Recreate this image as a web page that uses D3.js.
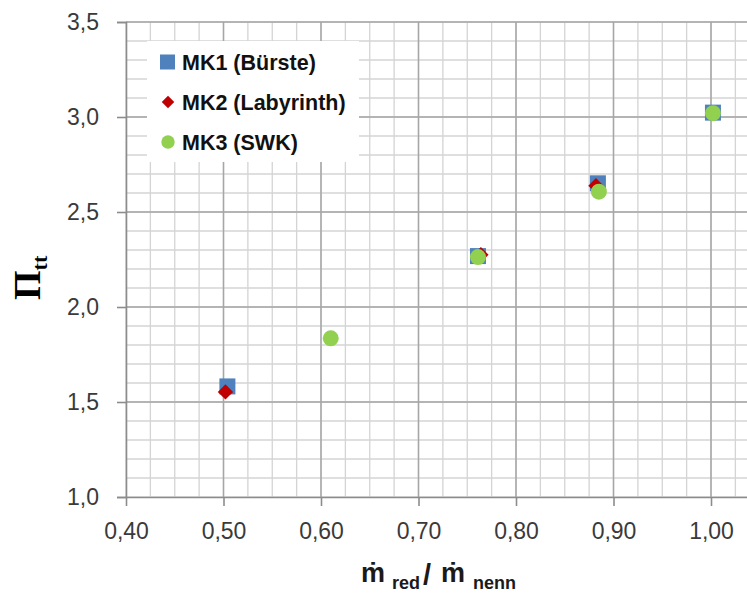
<!DOCTYPE html>
<html>
<head>
<meta charset="utf-8">
<script src="https://cdn.jsdelivr.net/npm/d3@7"></script>
<style>
  html, body { margin: 0; padding: 0; background: #fff; }
  svg { display: block; }
</style>
</head>
<body>
<svg id="chart" width="747" height="594"></svg>
<script>
// Mass-flow ratio vs. total-to-total pressure ratio for three seal variants
const xTicks = [0.40, 0.50, 0.60, 0.70, 0.80, 0.90, 1.00];
const yTicks = [1.0, 1.5, 2.0, 2.5, 3.0, 3.5];

const mk1X = [0.504, 0.761, 0.884, 1.002];
const mk1Y = [1.582, 2.268, 2.651, 3.023];

const mk2X = [0.502, 0.764, 0.882, 1.002];
const mk2Y = [1.553, 2.275, 2.638, 3.020];

const mk3X = [0.610, 0.761, 0.885, 1.002];
const mk3Y = [1.835, 2.263, 2.607, 3.020];

const seriesNames = ["MK1 (Bürste)", "MK2 (Labyrinth)", "MK3 (SWK)"];
const seriesColors = ["#4F81BD", "#C00000", "#92D050"];

const svg = d3.select("#chart");
const W = 747, H = 594;
const plotLeft = 126, plotTop = 22, plotBottom = 497;

const x = d3.scaleLinear().domain([0.40, 1.05]).range([plotLeft, plotLeft + 633.75]);
const y = d3.scaleLinear().domain([1.0, 3.5]).range([plotBottom, plotTop]);

const fmt = d3.format(".2f");
const comma = s => s.replace(".", ",");

// Grid: minor lines first, then major
const g = svg.append("g");
const xMinor = d3.range(0, 27).map(i => 0.40 + i * 0.025).filter(v => x(v) <= W);
const yMinor = d3.range(0, 26).map(i => 1.0 + i * 0.1);

g.selectAll("line.xminor").data(xMinor).join("line")
  .attr("x1", d => x(d)).attr("x2", d => x(d))
  .attr("y1", plotTop).attr("y2", plotBottom)
  .attr("stroke", "#d4d4d4").attr("stroke-width", 1.3);
g.selectAll("line.yminor").data(yMinor).join("line")
  .attr("x1", plotLeft).attr("x2", W)
  .attr("y1", d => y(d)).attr("y2", d => y(d))
  .attr("stroke", "#d4d4d4").attr("stroke-width", 1.3);
g.selectAll("line.xmajor").data(xTicks.slice(1)).join("line")
  .attr("x1", d => x(d)).attr("x2", d => x(d))
  .attr("y1", plotTop).attr("y2", plotBottom)
  .attr("stroke", "#a6a6a6").attr("stroke-width", 1.5);
g.selectAll("line.ymajor").data(yTicks.slice(1)).join("line")
  .attr("x1", plotLeft).attr("x2", W)
  .attr("y1", d => y(d)).attr("y2", d => y(d))
  .attr("stroke", "#a6a6a6").attr("stroke-width", 1.5);

// Axes
const xAxis = d3.axisBottom(x).tickValues(xTicks).tickSize(9).tickPadding(13)
  .tickFormat(d => comma(fmt(d)));
const yAxis = d3.axisLeft(y).tickValues(yTicks).tickSize(9).tickPadding(18)
  .tickFormat(d => comma(d3.format(".1f")(d)));

const gx = svg.append("g").attr("transform", `translate(0,${plotBottom})`).call(xAxis);
const gy = svg.append("g").attr("transform", `translate(${plotLeft},0)`).call(yAxis);
gx.select(".domain").attr("d", `M${plotLeft},0.5H${W}`);
[gx, gy].forEach(a => {
  a.select(".domain").attr("stroke", "#8c8c8c").attr("stroke-width", 1.6);
  a.selectAll(".tick line").attr("stroke", "#8c8c8c").attr("stroke-width", 1.6);
  a.selectAll(".tick text")
    .attr("fill", "#3a3a3a")
    .style("font-family", "'Liberation Sans', Arial, sans-serif")
    .style("font-size", "23px");
});
gx.selectAll(".tick text").attr("dy", "0.85em");

// Markers
const sq = 16;
const diamond = d3.symbol().type(d3.symbolDiamond2).size(150);
const circle = d3.symbol().type(d3.symbolCircle).size(200);

const mk1 = d3.zip(mk1X, mk1Y), mk2 = d3.zip(mk2X, mk2Y), mk3 = d3.zip(mk3X, mk3Y);

svg.append("g").selectAll("rect").data(mk1).join("rect")
  .attr("x", d => x(d[0]) - sq / 2).attr("y", d => y(d[1]) - sq / 2)
  .attr("width", sq).attr("height", sq).attr("fill", seriesColors[0]);
svg.append("g").selectAll("path").data(mk2).join("path")
  .attr("d", diamond).attr("transform", d => `translate(${x(d[0])},${y(d[1])})`)
  .attr("fill", seriesColors[1]);
svg.append("g").selectAll("path").data(mk3).join("path")
  .attr("d", circle).attr("transform", d => `translate(${x(d[0])},${y(d[1])})`)
  .attr("fill", seriesColors[2]);

// Legend
const lg = svg.append("g");
lg.append("rect").attr("x", 147).attr("y", 41).attr("width", 212).attr("height", 121).attr("fill", "#fff");
const rowY = [62, 102, 142];
lg.append("rect").attr("x", 160).attr("y", rowY[0] - 7.5).attr("width", 15).attr("height", 15)
  .attr("fill", seriesColors[0]);
lg.append("path").attr("d", d3.symbol().type(d3.symbolDiamond2).size(100))
  .attr("transform", `translate(168,${rowY[1]})`).attr("fill", seriesColors[1]);
lg.append("path").attr("d", d3.symbol().type(d3.symbolCircle).size(140))
  .attr("transform", `translate(168,${rowY[2]})`).attr("fill", seriesColors[2]);
lg.selectAll("text").data(seriesNames).join("text")
  .attr("x", 182).attr("y", (d, i) => rowY[i]).attr("dy", "0.36em")
  .attr("fill", "#111")
  .style("font-family", "'Liberation Sans', Arial, sans-serif")
  .style("font-weight", "bold").style("font-size", "21.5px")
  .text(d => d);

// Axis titles
const yt = svg.append("text")
  .attr("transform", "translate(40,300) rotate(-90)")
  .style("font-family", "'Liberation Serif', 'Times New Roman', serif")
  .style("font-weight", "bold").attr("fill", "#000");
yt.append("tspan").style("font-size", "38px").text("Π");
yt.append("tspan").style("font-size", "22px").attr("dy", 7).text("tt");

const xt = svg.append("text")
  .attr("x", 361).attr("y", 582)
  .style("font-family", "'Liberation Sans', Arial, sans-serif")
  .style("font-weight", "bold").attr("fill", "#1a1a1a");
xt.append("tspan").style("font-size", "27px").text("ṁ");
xt.append("tspan").style("font-size", "18px").attr("dx", 7).attr("dy", 7).text("red");
xt.append("tspan").style("font-size", "29px").attr("dx", 3).attr("dy", -4).text("/");
xt.append("tspan").style("font-size", "27px").attr("dx", 10).attr("dy", -3).text("ṁ");
xt.append("tspan").style("font-size", "18px").attr("dx", 8).attr("dy", 7).text("nenn");
</script>
</body>
</html>
